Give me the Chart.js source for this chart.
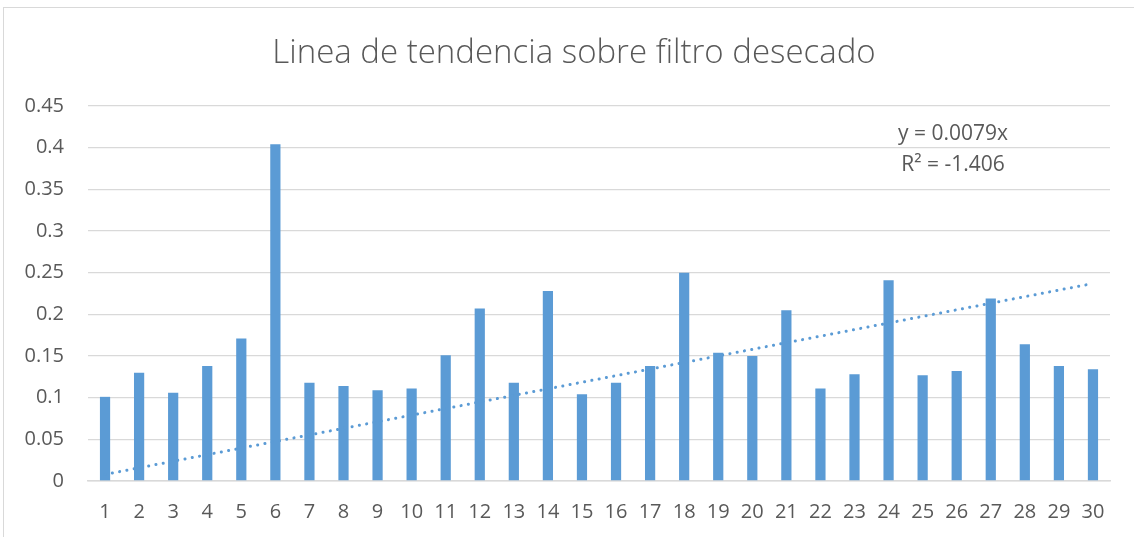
<!DOCTYPE html>
<html>
<head>
<meta charset="utf-8">
<script src="https://cdn.jsdelivr.net/npm/chart.js@4"></script>
<style>
  html, body { margin: 0; padding: 0; background: #fff; }
  #wrap { position: relative; width: 1134px; height: 537px; }
  #frame { position: absolute; left: 3px; top: 7px; right: -2px; bottom: -2px; border: 1px solid #d9d9d9; }
  canvas { position: absolute; left: 0; top: 0; }
</style>
</head>
<body>
<div id="wrap">
  <div id="frame"></div>
  <canvas id="trendChart" width="1134" height="537"></canvas>
</div>
<script>
// Data
const categories = ['1','2','3','4','5','6','7','8','9','10','11','12','13','14','15',
  '16','17','18','19','20','21','22','23','24','25','26','27','28','29','30'];
const values = [0.101, 0.130, 0.106, 0.138, 0.171, 0.404, 0.118, 0.114, 0.109, 0.111,
  0.151, 0.207, 0.118, 0.228, 0.104, 0.118, 0.138, 0.250, 0.154, 0.150,
  0.205, 0.111, 0.128, 0.241, 0.127, 0.132, 0.219, 0.164, 0.138, 0.134];
// trend line end points (y = 0.0079x at x = 1 and x = 30), gaps spanned
const trendValues = [0.0079, null, null, null, null, null, null, null, null, null,
  null, null, null, null, null, null, null, null, null, null,
  null, null, null, null, null, null, null, null, null, 0.237];
const yTicks = [0, 0.05, 0.1, 0.15, 0.2, 0.25, 0.3, 0.35, 0.4, 0.45];
const chartTitle = 'Linea de tendencia sobre filtro desecado';
const trendLabel = ['y = 0.0079x', 'R\u00B2 = -1.406'];

const textColor = '#595959';
const gridColor = '#d9d9d9';
const barColor = '#5b9bd5';

// Title and trendline equation text
const textPlugin = {
  id: 'texts',
  afterDraw(chart) {
    const ctx = chart.ctx;
    const area = chart.chartArea;
    ctx.save();
    ctx.fillStyle = textColor;
    ctx.textAlign = 'center';
    ctx.textBaseline = 'middle';
    ctx.font = '300 33px "Open Sans"';
    ctx.fillText(chartTitle, 574, 54);
    ctx.font = '21px "Open Sans"';
    ctx.fillText(trendLabel[0], area.right - 157, area.top + 28);
    ctx.fillText(trendLabel[1], area.right - 157, area.top + 59);
    ctx.restore();
  }
};

const ctx = document.getElementById('trendChart').getContext('2d');
const trendChart = new Chart(ctx, {
  type: 'bar',
  data: {
    labels: categories,
    datasets: [{
      type: 'line',
      label: 'Tendencia',
      data: trendValues,
      spanGaps: true,
      borderColor: barColor,
      borderWidth: 3,
      borderDash: [0.1, 7.3],
      borderCapStyle: 'round',
      pointRadius: 0,
      fill: false,
      order: 0
    }, {
      label: 'Filtro desecado',
      data: values,
      backgroundColor: barColor,
      borderWidth: 0,
      barPercentage: 0.3,
      categoryPercentage: 1,
      order: 1
    }]
  },
  options: {
    responsive: false,
    animation: false,
    layout: { padding: { left: 0, right: 24, top: 106, bottom: 0 } },
    plugins: {
      legend: { display: false },
      tooltip: { enabled: false },
      title: { display: false }
    },
    scales: {
      x: {
        afterFit: s => { s.height = 56; },
        grid: { display: false, drawTicks: false },
        border: { display: true, color: gridColor, width: 1.5 },
        ticks: {
          color: textColor,
          font: { family: 'Open Sans', size: 20 },
          padding: 19,
          maxRotation: 0,
          autoSkip: false
        }
      },
      y: {
        min: 0,
        max: 0.45,
        afterFit: s => { s.width = 88; },
        afterBuildTicks: s => { s.ticks = yTicks.map(v => ({ value: v })); },
        grid: { color: gridColor, lineWidth: 1.3, drawTicks: false },
        border: { display: false },
        ticks: {
          color: textColor,
          font: { family: 'Open Sans', size: 20 },
          padding: 24,
          callback: v => String(v)
        }
      }
    }
  },
  plugins: [textPlugin]
});
</script>
</body>
</html>
